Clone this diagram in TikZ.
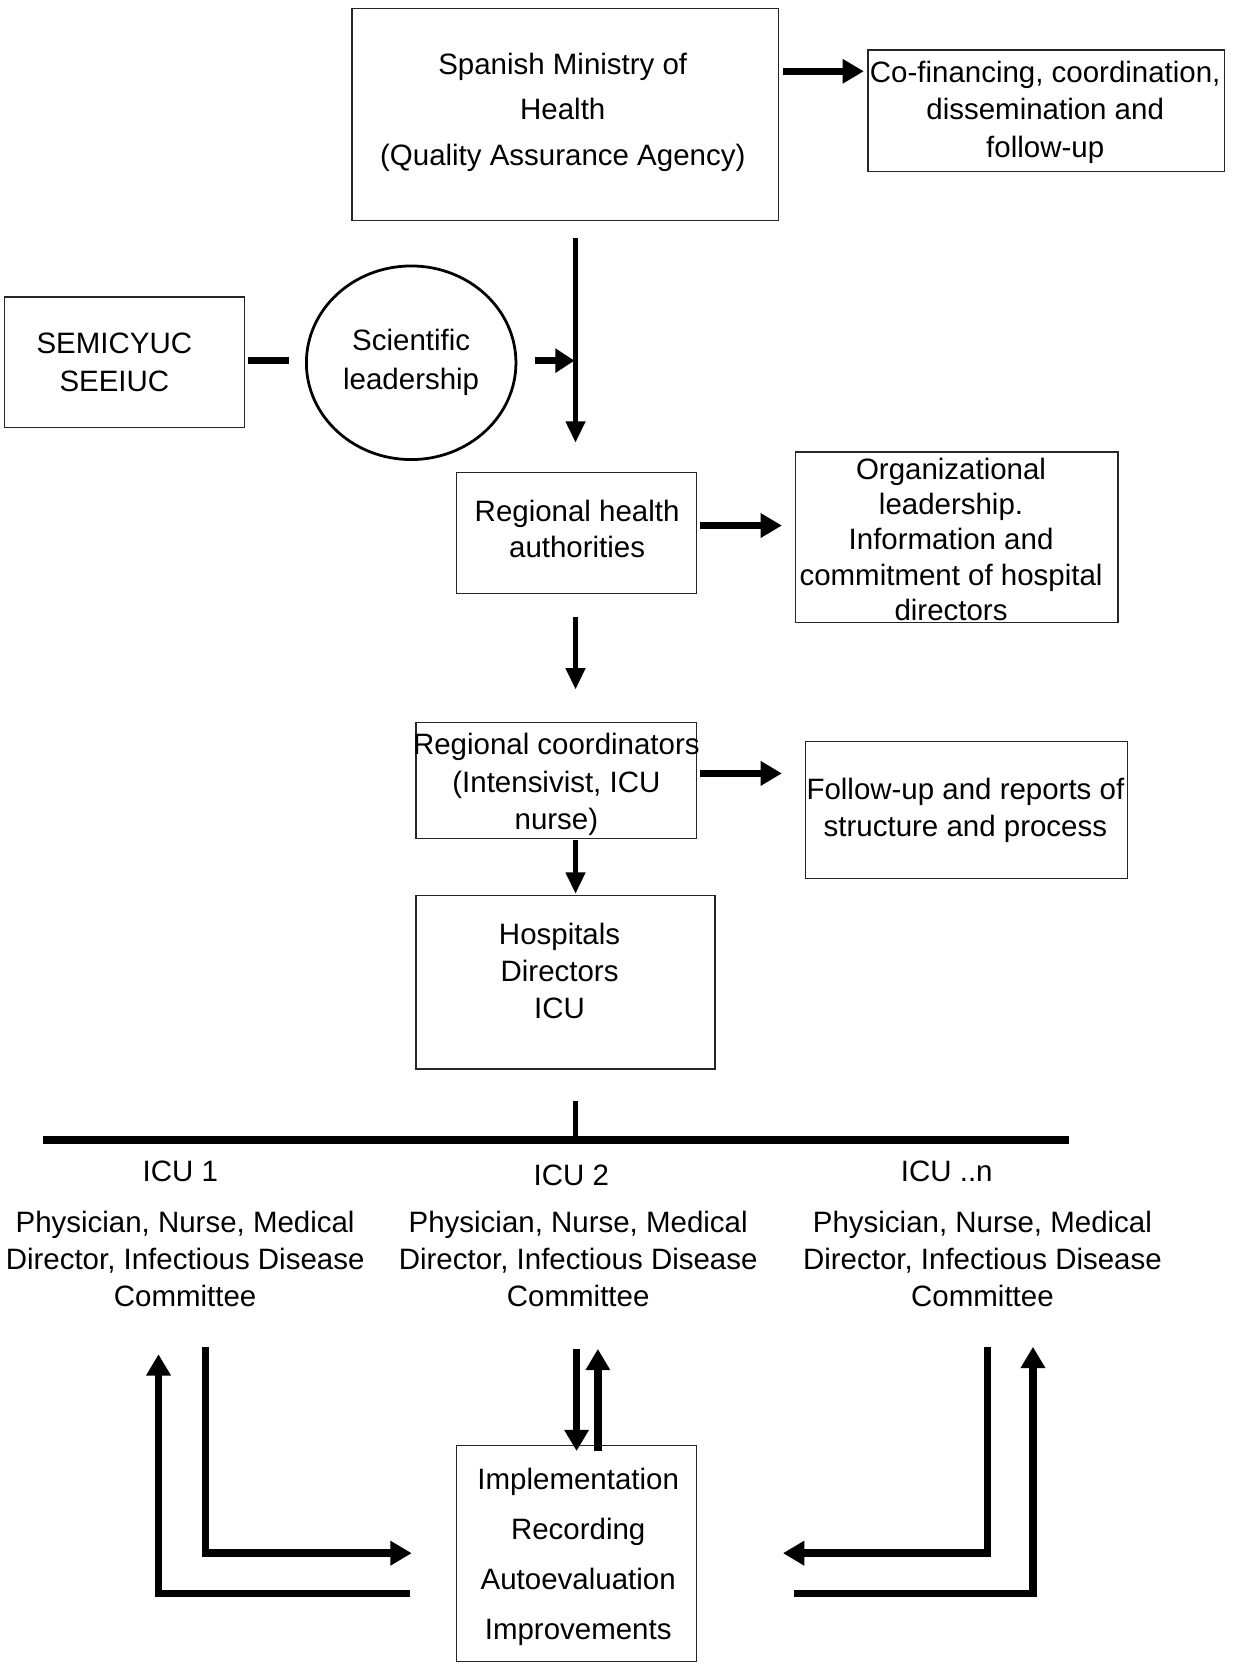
\documentclass[tikz,border=0pt]{standalone}
\usepackage{fontspec}
\setmainfont{Liberation Sans}
\usetikzlibrary{arrows.meta,shapes.geometric}
\begin{document}
\begin{tikzpicture}[x=1pt,y=-1pt,
  box/.style={draw=black!85,line width=1.3pt,inner sep=0pt},
  txt/.style={font=\fontsize{27.7}{35}\selectfont,align=center,inner sep=0pt,yshift=-2.5pt},
  arr/.style={line width=6.5pt,-{Triangle[length=20pt,width=22pt]}},
  varr/.style={line width=4pt,-{Triangle[length=20pt,width=18pt]}},
  barline/.style={line width=7.5pt},
  lpath/.style={line width=7pt,line join=miter,-{Triangle[length=20pt,width=22pt]}},
  plainl/.style={line width=7pt,line join=miter}]
\useasboundingbox (0,0) rectangle (1160,1571.7);

% boxes
\node[box,minimum width=401pt,minimum height=199pt] (bmin) at (531.5,107.5) {};
\node[txt,font=\fontsize{27.7}{43}\selectfont] (tmin) at (529,103) {Spanish Ministry of\\Health\\(Quality Assurance Agency)};
\node[box,minimum width=335pt,minimum height=114pt] (bcof) at (983.5,104) {};
\node[txt] (tcof) at (982.5,103) {Co-financing, coordination,\\dissemination and\\follow-up};
\node[box,minimum width=226pt,minimum height=123pt] (bsem) at (117,340.5) {};
\node[txt,font=\fontsize{27.7}{36}\selectfont] (tsem) at (107.5,338) {SEMICYUC\\SEEIUC};
\node[ellipse,draw=black,line width=2.6pt,minimum width=197pt,minimum height=182pt,inner sep=0pt] (sci) at (386.5,341) {};
\node[txt,font=\fontsize{27.7}{36}\selectfont] (tsci) at (386.5,338) {Scientific\\leadership};
\node[box,minimum width=226pt,minimum height=114pt] (breg) at (542,501) {};
\node[txt,font=\fontsize{27.7}{34}\selectfont] (treg) at (542.5,495) {Regional health\\authorities};
\node[box,minimum width=303pt,minimum height=160pt] (borg) at (899.5,505) {};
\node[txt,font=\fontsize{27.7}{33.3}\selectfont] (torg) at (894,504.5) {Organizational\\leadership.\\Information and\\commitment of hospital\\directors};
\node[box,minimum width=264pt,minimum height=109pt] (bcoo) at (523,733.5) {};
\node[txt] (tcoo) at (523,735) {Regional coordinators\\(Intensivist, ICU\\nurse)};
\node[box,minimum width=303pt,minimum height=129pt] (bfol) at (908.5,761.5) {};
\node[txt] (tfol) at (907.5,759.5) {Follow-up and reports of\\structure and process};
\node[box,minimum width=281pt,minimum height=163pt] (bhos) at (531.5,923.5) {};
\node[txt] (thos) at (526,910) {Hospitals\\Directors\\ICU};
\node[box,minimum width=226pt,minimum height=203pt] (bimp) at (542,1460.5) {};
\node[txt,font=\fontsize{27.7}{47}\selectfont] (timp) at (543.5,1460.5) {Implementation\\Recording\\Autoevaluation\\Improvements};

% ICU labels
\node[txt] (icu1) at (169.5,1099) {ICU 1};
\node[txt] (icu2) at (537,1102) {ICU 2};
\node[txt] (icun) at (890,1099) {ICU ..n};
\node[txt] (g1) at (174,1181) {Physician, Nurse, Medical\\Director, Infectious Disease\\Committee};
\node[txt] (g2) at (543.5,1181) {Physician, Nurse, Medical\\Director, Infectious Disease\\Committee};
\node[txt] (g3) at (923.5,1181) {Physician, Nurse, Medical\\Director, Infectious Disease\\Committee};

% coordinates for free connector ends
\coordinate (c1a) at (736,67);   \coordinate (c1b) at (812,67);
\coordinate (c2a) at (541,224);  \coordinate (c2b) at (541,416);
\coordinate (c3a) at (233,339);  \coordinate (c3b) at (272,339);
\coordinate (c4a) at (503,339);  \coordinate (c4b) at (540,339);
\coordinate (c5a) at (658,494);  \coordinate (c5b) at (735,494);
\coordinate (c6a) at (541,580);  \coordinate (c6b) at (541,648);
\coordinate (c7a) at (658,727);  \coordinate (c7b) at (735,727);
\coordinate (c8a) at (541,790);  \coordinate (c8b) at (541,840);
\coordinate (c9a) at (541,1035); \coordinate (c9b) at (541,1072);
\coordinate (barl) at (40,1072); \coordinate (barr) at (1005,1072);
\coordinate (d1a) at (542,1268); \coordinate (d1b) at (542,1364);
\coordinate (u1a) at (562,1364); \coordinate (u1b) at (562,1268);
\coordinate (lo1) at (385,1498); \coordinate (lo2) at (149,1498); \coordinate (lo3) at (149,1273);
\coordinate (li1) at (193,1266); \coordinate (li2) at (193,1460); \coordinate (li3) at (387,1460);
\coordinate (ri1) at (928,1266); \coordinate (ri2) at (928,1460); \coordinate (ri3) at (736,1460);
\coordinate (ro1) at (746,1498); \coordinate (ro2) at (971,1498); \coordinate (ro3) at (971,1266);

% connectors
\draw[arr] (c1a) -- (c1b);
\draw[varr] (c2a) -- (c2b);
\draw[line width=6.5pt] (c3a) -- (c3b);
\draw[arr,-{Triangle[length=18pt,width=22pt]}] (c4a) -- (c4b);
\draw[arr] (c5a) -- (c5b);
\draw[varr] (c6a) -- (c6b);
\draw[arr] (c7a) -- (c7b);
\draw[varr] (c8a) -- (c8b);
\draw[line width=4pt] (c9a) -- (c9b);
\draw[barline] (barl) -- (barr);
\draw[lpath] (d1a) -- (d1b);
\draw[lpath] (u1a) -- (u1b);
\draw[lpath] (lo1) -- (lo2) -- (lo3);
\draw[lpath] (li1) -- (li2) -- (li3);
\draw[lpath] (ri1) -- (ri2) -- (ri3);
\draw[lpath] (ro1) -- (ro2) -- (ro3);
\end{tikzpicture}
\end{document}
